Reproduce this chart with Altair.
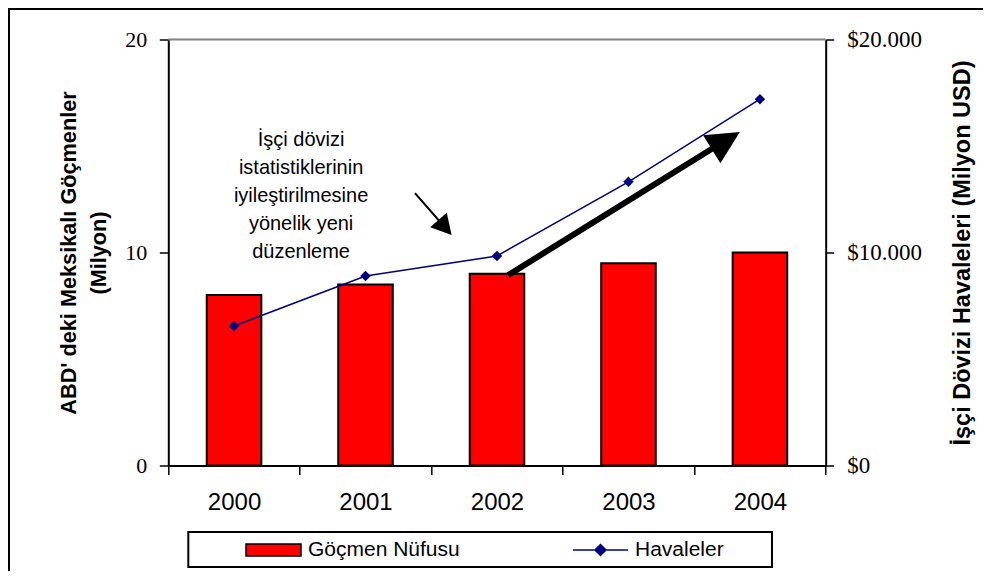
import altair as alt
import pandas as pd

# ---- data ----
years = [2000, 2001, 2002, 2003, 2004]
migrants = [8.0, 8.5, 9.0, 9.5, 10.0]                 # million people (left axis)
remittances = [6550, 8900, 9840, 13320, 17200]        # million USD (right axis)
series_names = ["Göçmen Nüfusu", "Havaleler"]
left_ticks = [0, 10, 20]
right_ticks = [0, 10000, 20000]
x_tick_values = [1999.5, 2000, 2000.5, 2001, 2001.5, 2002, 2002.5, 2003, 2003.5, 2004, 2004.5]
note_lines = ["İşçi dövizi", "istatistiklerinin", "iyileştirilmesine", "yönelik yeni", "düzenleme"]
note_anchor = [2000.51, 15.26]
# arrows in data units: start, end of shaft, tip
small_arrow = [2001.376, 12.79, 2001.580, 11.35, 2001.655, 10.82]
big_arrow = [2002.085, 8.94, 2003.657, 14.95, 2003.847, 15.66]

RED = "#FF0000"
NAVY = "#000080"
SANS = "Liberation Sans, Arial, sans-serif"
SERIF = "Liberation Serif, Times New Roman, serif"
BAR_HALF = 0.2075

df = pd.DataFrame({"year": years, "migrants": migrants, "remit": remittances,
                   "s1": series_names[0], "s2": series_names[1]})
df["x0"] = df["year"] - BAR_HALF
df["x1"] = df["year"] + BAR_HALF

note_df = pd.DataFrame({"x": [note_anchor[0]], "y": [note_anchor[1]], "text": ["\n".join(note_lines)]})
arrows_df = pd.DataFrame({
    "x": [small_arrow[0], big_arrow[0]], "y": [small_arrow[1], big_arrow[1]],
    "x2": [small_arrow[2], big_arrow[2]], "y2": [small_arrow[3], big_arrow[3]],
    "tx": [small_arrow[4], big_arrow[4]], "ty": [small_arrow[5], big_arrow[5]],
    "kind": ["small", "big"],
})
one = pd.DataFrame({"a": [0]})

xscale = alt.Scale(domain=[1999.5, 2004.5], nice=False, zero=False)
yl_scale = alt.Scale(domain=[0, 20], nice=False, zero=True)
yr_scale = alt.Scale(domain=[0, 20000], nice=False, zero=True)

x_axis = alt.Axis(
    values=x_tick_values,
    labelExpr="datum.value % 1 == 0 ? format(datum.value, 'd') : ''",
    tickOpacity={"condition": {"test": "datum.value % 1 == 0", "value": 0}, "value": 1},
    grid=False, domainColor="black", domainWidth=2, tickColor="black", tickWidth=1.5,
    tickSize=9, labelFont=SANS, labelFontSize=24, labelColor="black", labelPadding=16,
    labelOverlap=False, labelFlush=False, title=None,
)
yl_axis = alt.Axis(
    values=left_ticks, grid=False, domainColor="black", domainWidth=2, tickColor="black",
    tickWidth=1.5, tickSize=9, labelFont=SERIF, labelFontSize=22, labelColor="black",
    labelPadding=12.6,
    title=["ABD' deki Meksikalı Göçmenler", "(Milyon)"], titleFont=SANS, titleFontSize=21.7,
    titleFontWeight="bold", titleColor="black", titlePadding=14, titleLineHeight=30,
)
yr_axis = alt.Axis(
    orient="right", values=right_ticks,
    labelExpr="'$' + replace(format(datum.value, ','), ',', '.')",
    grid=False, domainColor="black", domainWidth=2, tickColor="black", tickWidth=1.5,
    tickSize=8, labelFont=SERIF, labelFontSize=23, labelColor="black", labelPadding=13,
    title="İşçi Dövizi Havaleleri (Milyon USD)", titleFont=SANS, titleFontSize=23.5,
    titleFontWeight="bold", titleColor="black", titlePadding=53, titleAngle=270,
)

legend_common = dict(
    orient="none", legendY=482, direction="horizontal", title=None,
    labelFont=SANS, labelFontSize=21, labelColor="black", labelLimit=300,
    symbolSize=3025, labelOffset=6,
)
legend_bar = alt.Legend(legendX=76.7, symbolType="M-1,-0.22H1V0.22H-1Z",
                        symbolStrokeColor="black", symbolStrokeWidth=1.5,
                        symbolFillColor=RED, symbolOpacity=1, **legend_common)
legend_line = alt.Legend(legendX=403.7, symbolType="M-1,0H1M0,-0.2L0.2,0L0,0.2L-0.2,0Z",
                         symbolStrokeColor=NAVY, symbolStrokeWidth=1.5,
                         symbolFillColor=NAVY, symbolOpacity=1, **legend_common)

base = alt.Chart(df)

X = lambda f: alt.X(f, scale=xscale, axis=x_axis)
YL = lambda f: alt.Y(f, scale=yl_scale, axis=yl_axis)
YR = lambda f: alt.Y(f, scale=yr_scale, axis=yr_axis)

top_rule = alt.Chart(one).mark_rule(color="#808080", strokeWidth=2).encode(
    x=alt.value(0), x2=alt.value(657.4), y=alt.value(0))

bars = base.mark_rect(stroke="black", strokeWidth=2).encode(
    x=X("x0:Q"), x2="x1:Q",
    y=YL("migrants:Q"), y2=alt.datum(0),
    fill=alt.Fill("s1:N", scale=alt.Scale(domain=[series_names[0]], range=[RED]), legend=legend_bar),
)

note = alt.Chart(note_df).mark_text(
    lineBreak="\n", lineHeight=28, fontSize=20, font=SANS, align="center",
    baseline="middle", color="black").encode(
    x=X("x:Q"), y=YL("y:Q"), text="text:N")

shaft_small = alt.Chart(arrows_df).transform_filter("datum.kind == 'small'").mark_rule(
    color="black", strokeWidth=2).encode(x=X("x:Q"), y=YL("y:Q"), x2="x2:Q", y2="y2:Q")
shaft_big = alt.Chart(arrows_df).transform_filter("datum.kind == 'big'").mark_rule(
    color="black", strokeWidth=6).encode(x=X("x:Q"), y=YL("y:Q"), x2="x2:Q", y2="y2:Q")
head_small = alt.Chart(arrows_df).transform_filter("datum.kind == 'small'").mark_point(
    shape="M0,0L-0.55,1L0.55,1Z", filled=True, size=1600, angle=138.8, color="black",
    opacity=1, strokeWidth=0).encode(x=X("tx:Q"), y=YL("ty:Q"))
head_big = alt.Chart(arrows_df).transform_filter("datum.kind == 'big'").mark_point(
    shape="M0,0L-0.5,1L0.5,1Z", filled=True, size=4356, angle=58.3, color="black",
    opacity=1, strokeWidth=0).encode(x=X("tx:Q"), y=YL("ty:Q"))

legend_box = alt.Chart(one).mark_rect(fill="white", fillOpacity=0, stroke="black", strokeWidth=2).encode(
    x=alt.value(20), x2=alt.value(603.7), y=alt.value(492.5), y2=alt.value(527.5))

frame_top = alt.Chart(one).mark_rule(color="black", strokeWidth=2).encode(
    x=alt.value(-160), x2=alt.value(830), y=alt.value(-30.5))
frame_left = alt.Chart(one).mark_rule(color="black", strokeWidth=2).encode(
    x=alt.value(-159.3), y=alt.value(-31.5), y2=alt.value(540))

left_layer = alt.layer(top_rule, bars, note, shaft_small, shaft_big, head_small, head_big,
                       legend_box, frame_top, frame_left)

line = base.mark_line(color=NAVY, strokeWidth=1.5).encode(
    x=X("year:Q"), y=YR("remit:Q"))
points = base.mark_point(shape="diamond", filled=True, size=110, opacity=1).encode(
    x=X("year:Q"), y=YR("remit:Q"),
    color=alt.Color("s2:N", scale=alt.Scale(domain=[series_names[1]], range=[NAVY]), legend=legend_line))
right_layer = alt.layer(line, points)

chart = alt.layer(left_layer, right_layer).resolve_scale(y="independent").properties(
    width=657.4, height=426,
    padding={"left": 160.3, "top": 31.5, "right": 157, "bottom": 105},
    autosize=alt.AutoSizeParams(type="none"),
    background="white",
).configure_view(stroke=None)

chart.save("out.html", embed_options={"renderer": "svg", "actions": False})
